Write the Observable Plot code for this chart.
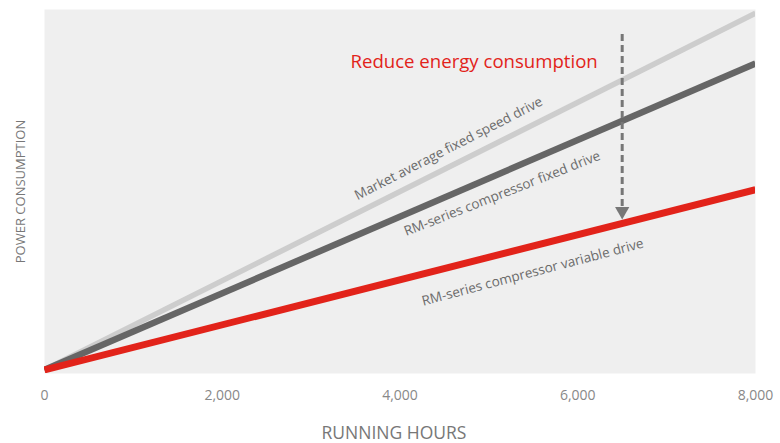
<!DOCTYPE html>
<html>
<head>
<meta charset="utf-8">
<script src="https://cdn.jsdelivr.net/npm/d3@7"></script>
<script src="https://cdn.jsdelivr.net/npm/@observablehq/plot@0.6"></script>
<style>
  html, body { margin: 0; padding: 0; background: #fff; }
  #chart svg { display: block; }
</style>
</head>
<body>
<div id="chart"></div>
<script>
const hours = [0, 8000];
const marketAverage = [1, 99];
const rmFixed = [1, 85.2];
const rmVariable = [1, 50.5];
const xTicks = [0, 2000, 4000, 6000, 8000];

const seriesNames = ["Market average fixed speed drive", "RM-series compressor fixed drive", "RM-series compressor variable drive"];
const labelX = [4546, 5150, 5493];
const labelY = [61.8, 49.4, 27.8];
const labelAngle = [-27.2, -21.5, -14.8];

const arrowX = 6500;
const arrowTop = 93.1;
const arrowBottom = 45.6;
const arrowTip = 44.6;

const calloutText = "Reduce energy consumption";
const calloutX = 3443;
const calloutY = 85.5;

const toRows = (vals) => hours.map((h, i) => ({x: h, y: vals[i]}));
const labels = seriesNames.map((name, i) => ({name, x: labelX[i], y: labelY[i], a: labelAngle[i]}));

const FONT = "'Open Sans', 'Noto Sans', sans-serif";

const chart = Plot.plot({
  width: 780,
  height: 443,
  marginLeft: 44,
  marginRight: 25,
  marginTop: 9,
  marginBottom: 70,
  style: {fontFamily: FONT, background: "#fff"},
  x: {domain: [0, 8000], label: null},
  y: {domain: [0, 100], axis: null},
  marks: [
    Plot.frame({fill: "#efefef", stroke: null}),
    Plot.axisX({ticks: xTicks, tickFormat: d3.format(","), tickSize: 0, tickPadding: 17, label: null, fontSize: 14, color: "#888"}),
    Plot.line(toRows(marketAverage), {x: "x", y: "y", stroke: "#cdcdcd", strokeWidth: 5.5, strokeLinecap: "butt", clip: true}),
    Plot.line(toRows(rmFixed), {x: "x", y: "y", stroke: "#666666", strokeWidth: 6.5, strokeLinecap: "butt", clip: true}),
    Plot.line(toRows(rmVariable), {x: "x", y: "y", stroke: "#e2231a", strokeWidth: 7, strokeLinecap: "butt", clip: true}),
    Plot.ruleX([arrowX], {y1: arrowTop, y2: arrowBottom, stroke: "#777", strokeWidth: 3, strokeDasharray: "7,4"}),
    Plot.dot([arrowTip], {x: () => arrowX, y: d => d, symbol: "triangle", rotate: 180, r: 5.3, fill: "#777", stroke: null}),
    Plot.text(labels, {x: "x", y: "y", text: "name", rotate: "a", fontSize: 13.5, fill: "#6b6b6b", textAnchor: "middle"}),
    Plot.text([calloutText], {x: () => calloutX, y: () => calloutY, text: d => d, fontSize: 18.6, fill: "#e2231a", textAnchor: "start"}),
    Plot.text(["RUNNING HOURS"], {frameAnchor: "bottom", text: d => d, dy: 60, dx: -6, fontSize: 17.5, fill: "#777", textAnchor: "middle", lineAnchor: "middle"}),
    Plot.text(["POWER CONSUMPTION"], {frameAnchor: "left", text: d => d, rotate: -90, dx: -24, fontSize: 13, fill: "#777", textAnchor: "middle", lineAnchor: "middle"})
  ]
});

document.getElementById("chart").appendChild(chart);
</script>
</body>
</html>
